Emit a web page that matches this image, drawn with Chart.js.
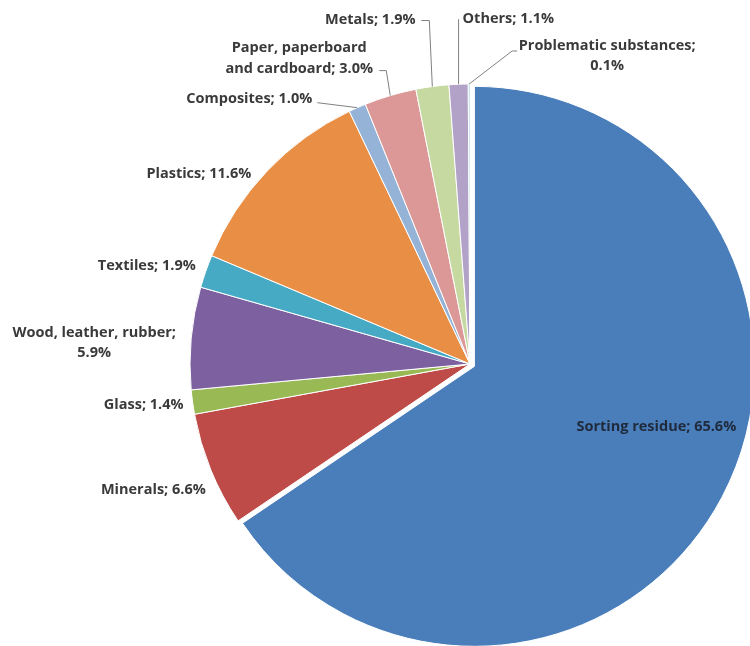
<!DOCTYPE html>
<html lang="en">
<head>
  <meta charset="UTF-8">
  <title>Waste composition</title>
  <script src="https://cdn.jsdelivr.net/npm/chart.js"></script>
  <style>
    body {
      margin: 0;
      background-color: #fff;
      overflow: hidden;
    }
    #wrap {
      width: 750px;
      height: 646px;
    }
  </style>
</head>
<body>
<div id="wrap">
  <canvas id="pieChart" width="750" height="646"></canvas>
</div>

<script>
  // data, clockwise from 12 o'clock
  const categories = [
    'Sorting residue', 'Minerals', 'Glass', 'Wood, leather, rubber', 'Textiles',
    'Plastics', 'Composites', 'Paper, paperboard and cardboard', 'Metals',
    'Others', 'Problematic substances'
  ];
  const shares = [65.6, 6.6, 1.4, 5.9, 1.9, 11.6, 1.0, 3.0, 1.9, 1.1, 0.1];
  const colors = [
    '#4a7ebb', '#be4b48', '#98b954', '#7d60a0', '#46aac4',
    '#e98e45', '#95b3d7', '#dc9896', '#c5d9a0', '#b3a2c7', '#93cddd'
  ];
  // pulled-out slice (px)
  const explode = [5, 0, 0, 0, 0, 0, 0, 0, 0, 0, 0];

  // label placement, offsets from the outer edge point of each slice
  const labelLayout = [
    { dx: -61, dy: -68, align: 'center' },
    { dx: -5, dy: 20, align: 'right' },
    { dx: -9, dy: 3, align: 'right' },
    { dx: -97, dy: 5, align: 'center', br: 'rubber;' },
    { dx: -10, dy: -5, align: 'right' },
    { dx: -16, dy: 3, align: 'right' },
    { dx: -45, dy: -9, align: 'right', lead: [[-40, -5]] },
    { dx: -91, dy: -37, align: 'center', br: 'paperboard', lead: [[-11, -25], [-4, -25]] },
    { dx: -62, dy: -67, align: 'center', lead: [[-11, -66], [-3, -66]] },
    { dx: 4, dy: -65, align: 'left', lead: [[0, -65]] },
    { dx: 138, dy: -28, align: 'center', br: 'substances;', lead: [[48, -33], [43, -33]] }
  ];

  // shift exploded arcs along their mid angle without growing them
  const explodeSlices = {
    id: 'explodeSlices',
    afterUpdate(chart) {
      chart.getDatasetMeta(0).data.forEach((arc, i) => {
        if (!explode[i] || arc._wrapped) return;
        const draw = arc.draw.bind(arc);
        arc.draw = (ctx) => {
          const mid = (arc.startAngle + arc.endAngle) / 2;
          ctx.save();
          ctx.translate(Math.cos(mid) * explode[i], Math.sin(mid) * explode[i]);
          draw(ctx);
          ctx.restore();
        };
        arc._wrapped = true;
      });
    }
  };

  const sliceLabels = {
    id: 'sliceLabels',
    afterDatasetsDraw(chart) {
      const ctx = chart.ctx;
      const arcs = chart.getDatasetMeta(0).data;
      ctx.save();
      ctx.font = 'bold 14.5px "Open Sans", "DejaVu Sans", sans-serif';
      ctx.textBaseline = 'middle';
      arcs.forEach((arc, i) => {
        const p = arc.getProps(['x', 'y', 'startAngle', 'endAngle', 'outerRadius'], true);
        const mid = (p.startAngle + p.endAngle) / 2;
        const ex = p.x + Math.cos(mid) * p.outerRadius;
        const ey = p.y + Math.sin(mid) * p.outerRadius;
        const lay = labelLayout[i];

        if (lay.lead) {
          ctx.strokeStyle = '#808080';
          ctx.lineWidth = 1;
          ctx.beginPath();
          lay.lead.forEach((pt, k) => {
            if (k === 0) ctx.moveTo(ex + pt[0], ey + pt[1]);
            else ctx.lineTo(ex + pt[0], ey + pt[1]);
          });
          ctx.lineTo(ex, ey);
          ctx.stroke();
        }

        let text = categories[i] + '; ' + shares[i].toFixed(1) + '%';
        let lines = [text];
        if (lay.br) {
          const cut = text.indexOf(lay.br) + lay.br.length;
          lines = [text.slice(0, cut), text.slice(cut).trim()];
        }
        const lh = 20.5;
        const tx = ex + lay.dx;
        const ty = ey + lay.dy - (lines.length - 1) * lh / 2;
        ctx.fillStyle = i === 0 ? '#1f2a3c' : '#3a3a3a';
        ctx.textAlign = lay.align;
        lines.forEach((ln, k) => ctx.fillText(ln, tx, ty + k * lh));
      });
      ctx.restore();
    }
  };

  new Chart(document.getElementById('pieChart'), {
    type: 'pie',
    data: {
      labels: categories,
      datasets: [{
        data: shares,
        backgroundColor: colors,
        borderColor: '#ffffff',
        borderWidth: 1,
        radius: 280,
        clip: false
      }]
    },
    options: {
      responsive: false,
      animation: false,
      layout: { padding: { left: 190, top: 82, right: 0, bottom: 0 } },
      plugins: {
        legend: { display: false },
        tooltip: { enabled: false }
      }
    },
    plugins: [explodeSlices, sliceLabels]
  });
</script>
</body>
</html>
